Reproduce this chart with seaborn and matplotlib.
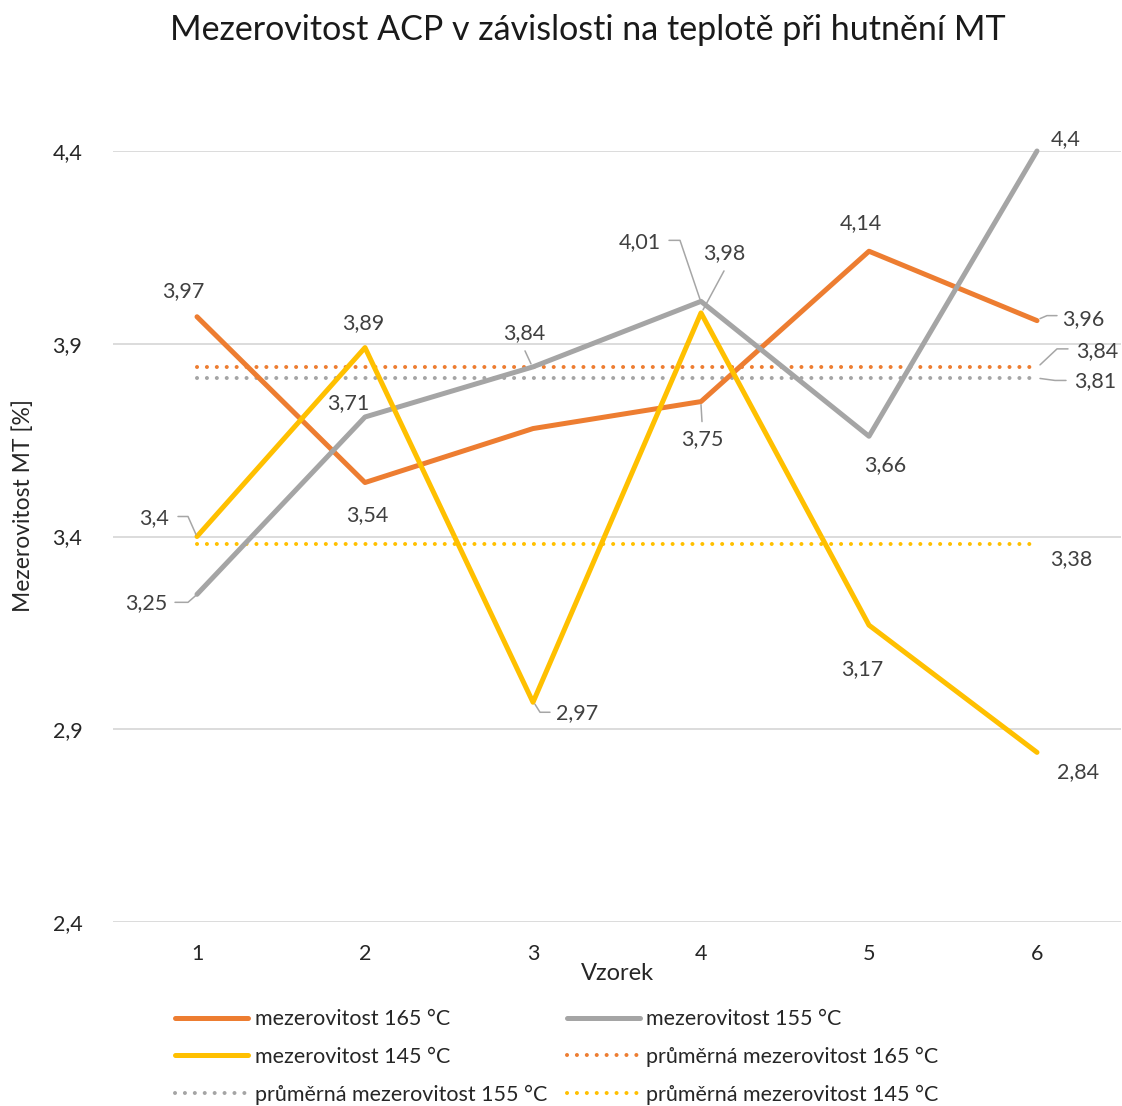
import numpy as np
import pandas as pd
import matplotlib
matplotlib.use("Agg")
import matplotlib.pyplot as plt
import matplotlib.transforms as mtransforms
import seaborn as sns

# --- data ---------------------------------------------------------------
vzorek = [1, 2, 3, 4, 5, 6]
mez_165 = [3.97, 3.54, 3.68, 3.75, 4.14, 3.96]
mez_155 = [3.25, 3.71, 3.84, 4.01, 3.66, 4.40]
mez_145 = [3.40, 3.89, 2.97, 3.98, 3.17, 2.84]
prumer_165 = 3.84
prumer_155 = 3.81
prumer_145 = 3.38
y_ticks = [2.4, 2.9, 3.4, 3.9, 4.4]

title = "Mezerovitost ACP v závislosti na teplotě při hutnění MT"
x_title = "Vzorek"
y_title = "Mezerovitost MT [%]"

C_ORANGE = "#ED7D31"
C_GRAY = "#A5A5A5"
C_YELLOW = "#FFC000"
C_TEXT = "#404040"
C_LEADER = "#A6A6A6"

sns.set_theme(style="white")
plt.rcParams["font.family"] = ["Lato", "DejaVu Sans"]

fig = plt.figure(figsize=(11.22, 11.06), dpi=100)
ax = fig.add_axes([113 / 1122, 1 - 922 / 1106, (1121 - 113) / 1122, (922 - 151) / 1106])

def fmt(v):
    s = f"{v:.2f}".rstrip("0").rstrip(".")
    return s.replace(".", ",")

# --- series -------------------------------------------------------------
main = [
    ("mezerovitost 165 °C", mez_165, C_ORANGE),
    ("mezerovitost 155 °C", mez_155, C_GRAY),
    ("mezerovitost 145 °C", mez_145, C_YELLOW),
]
avgs = [
    ("průměrná mezerovitost 165 °C", prumer_165, C_ORANGE),
    ("průměrná mezerovitost 155 °C", prumer_155, C_GRAY),
    ("průměrná mezerovitost 145 °C", prumer_145, C_YELLOW),
]

dot = (0, (0.01, 2.45))
for name, val, col in avgs:
    df = pd.DataFrame({"x": vzorek, "y": [val] * len(vzorek)})
    sns.lineplot(data=df, x="x", y="y", ax=ax, color=col, lw=2.9,
                 linestyle=dot, label=name, legend=False, zorder=2, clip_on=False)
    ax.lines[-1].set_dash_capstyle("round")

for name, vals, col in main:
    df = pd.DataFrame({"x": vzorek, "y": vals})
    sns.lineplot(data=df, x="x", y="y", ax=ax, color=col, lw=3.6,
                 label=name, legend=False, zorder=3, clip_on=False,
                 solid_capstyle="round", solid_joinstyle="round")

# --- data labels: (series values, index, offset px (dx, dy), leader vertices px)
labels = [
    (mez_165, 0, (-14, 26), None),
    (mez_165, 1, (2, -33), None),
    (mez_165, 3, (1, -38), [(0, -3), (1, -20)]),
    (mez_165, 4, (-8, 28), None),
    (mez_165, 5, (46, 2), [(3, 2), (10, 5), (20, 5)]),
    (mez_155, 0, (-51, -9), [(-1, -1), (-9, -8), (-22, -8)]),
    (mez_155, 1, (-17, 14), None),
    (mez_155, 2, (-9, 34), [(-2, 3), (-8, 16)]),
    (mez_155, 3, (-61, 59), [(-1, 2), (-21, 61), (-32, 61)]),
    (mez_155, 4, (16, -29), None),
    (mez_155, 5, (29, 12), None),
    (mez_145, 0, (-43, 18), [(-1, 2), (-9, 20), (-19, 20)]),
    (mez_145, 1, (-2, 25), None),
    (mez_145, 2, (44, -11), [(2, -2), (7, -10), (17, -10)]),
    (mez_145, 3, (23, 60), [(2, 3), (23, 42)]),
    (mez_145, 4, (-7, -44), None),
    (mez_145, 5, (41, -20), None),
]
avg_labels = [
    (prumer_165, (60, 16), [(3, 2), (20, 18), (31, 18)]),
    (prumer_155, (58, -3), [(3, 0), (18, -2), (29, -2)]),
    (prumer_145, (34, -15), None),
]

def put_label(xv, yv, off, leader):
    ax.annotate(fmt(yv), xy=(xv, yv), xytext=off, textcoords="offset pixels",
                ha="center", va="center", fontsize=15.5, color=C_TEXT,
                annotation_clip=False, zorder=5)
    if leader:
        tr = mtransforms.IdentityTransform() + mtransforms.ScaledTranslation(xv, yv, ax.transData)
        lx, ly = zip(*leader)
        ax.plot(lx, ly, color=C_LEADER, lw=1.1, transform=tr, clip_on=False, zorder=4)

for vals, i, off, leader in labels:
    put_label(vzorek[i], vals[i], off, leader)
for val, off, leader in avg_labels:
    put_label(vzorek[-1], val, off, leader)

# --- axes ---------------------------------------------------------------
ax.set_xlim(0.5, 6.5)
ax.set_ylim(2.4, 4.4)
ax.set_xticks(vzorek)
ax.set_yticks(y_ticks)
ax.set_yticklabels([fmt(v) for v in y_ticks])
ax.tick_params(axis="both", length=0, labelsize=15.5, colors="#262626")
ax.tick_params(axis="x", pad=16)
ax.tick_params(axis="y", pad=22)
ax.grid(axis="y", color="#D9D9D9", lw=1.3)
ax.grid(axis="x", visible=False)
for s in ax.spines.values():
    s.set_visible(False)
ax.set_axisbelow(True)

ax.set_xlabel(x_title, fontsize=17, color="#262626")
ax.xaxis.set_label_coords(0.5, -(963 - 922) / (922 - 151))
ax.set_ylabel(y_title, fontsize=16.5, color="#262626")
ax.yaxis.set_label_coords((34 - 113) / (1121 - 113), (922 - 505) / (922 - 151))
fig.text(588 / 1122, 1 - 30 / 1106, title, ha="center", va="center",
         fontsize=24.5, color="#1a1a1a")

# --- legend (row-wise order) -------------------------------------------
h, l = ax.get_legend_handles_labels()
lk = dict(zip(l, h))
order = ["mezerovitost 165 °C", "mezerovitost 145 °C", "průměrná mezerovitost 155 °C",
         "mezerovitost 155 °C", "průměrná mezerovitost 165 °C", "průměrná mezerovitost 145 °C"]
fig.legend([lk[k] for k in order], order, loc="center",
           bbox_to_anchor=(557 / 1122, 1 - 1057 / 1106), ncol=2, frameon=False,
           fontsize=15.5, handlelength=3.4, handletextpad=0.3, columnspacing=0.9,
           labelspacing=0.82, labelcolor="#262626")

fig.savefig("out.png", dpi=100)
